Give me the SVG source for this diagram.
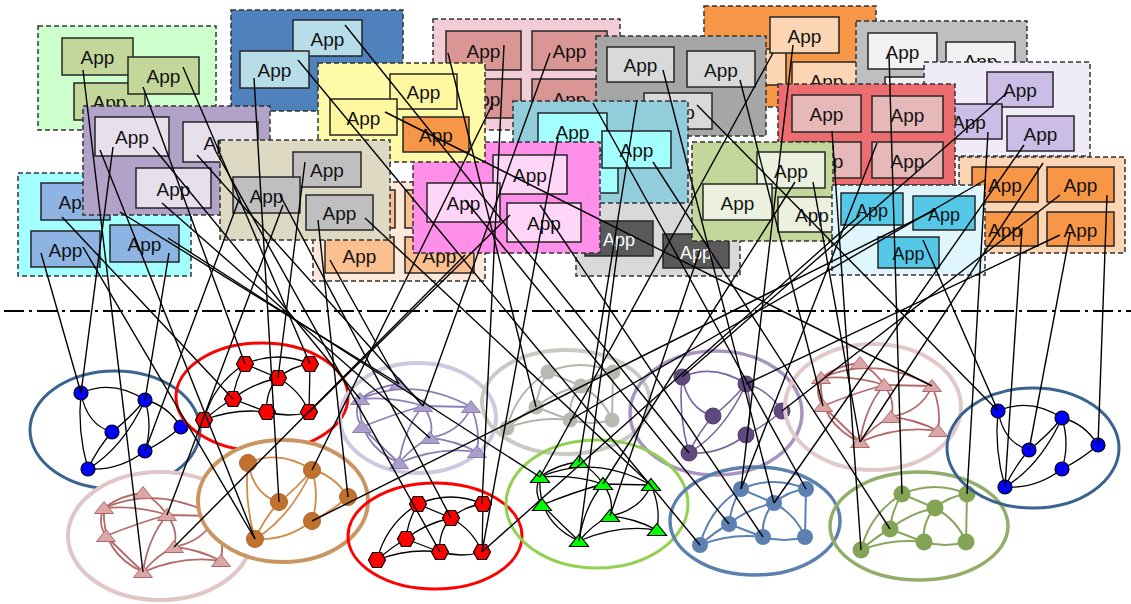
<svg xmlns="http://www.w3.org/2000/svg" xmlns:xlink="http://www.w3.org/1999/xlink" width="1131" height="604" viewBox="0 0 1131 604">
<style>
  .ct{stroke:#333;stroke-width:1.5;stroke-dasharray:5 3}
  .ap{stroke:#262626;stroke-width:1.5}
  .t{font-family:"Liberation Sans",Arial,sans-serif;font-size:19px;text-anchor:middle;fill:#111;transform:translateY(1.5px)}
  .tw{fill:#fff;font-size:18px}
  .ts{font-size:18px}
  .cn{stroke:#000;stroke-width:1.4;fill:none}
  .e{fill:none}
  .ink .e{stroke:#000;stroke-width:1.3}
  .ink .nd{stroke:#000;stroke-width:1.2}
</style>
<defs>
  <filter id="soft" x="-10%" y="-10%" width="120%" height="120%"><feGaussianBlur stdDeviation="0.7"/></filter>
  <!-- six-node layout -->
  <g id="edgesA">
    <path d="M0,0 Q32,-14 64,7"/><path d="M0,0 Q-4,38 7,76"/><path d="M0,0 Q6,32 31,39"/>
    <path d="M64,7 Q48,26 31,39"/><path d="M64,7 Q42,55 7,76"/><path d="M64,7 Q72,33 64,58"/>
    <path d="M64,7 Q86,12 100,34"/><path d="M31,39 Q16,56 7,76"/><path d="M64,58 Q38,78 7,76"/>
    <path d="M100,34 Q84,48 64,58"/>
  </g>
  <!-- seven-node layout -->
  <g id="edgesB">
    <path d="M0,0 Q33,-14 65,0"/><path d="M0,0 L33,14"/><path d="M33,14 Q47,2 65,0"/>
    <path d="M0,0 Q-10,16 -12,35"/><path d="M0,0 Q-32,20 -41,56"/><path d="M33,14 Q6,20 -12,35"/>
    <path d="M33,14 Q20,28 22,48"/><path d="M33,14 Q55,26 64,48"/><path d="M65,0 L64,48"/>
    <path d="M-12,35 L22,48"/><path d="M22,48 Q44,54 64,48"/><path d="M-41,56 Q-25,42 -12,35"/>
    <path d="M-41,56 Q-10,44 22,48"/>
  </g>
  <!-- eight-node layout -->
  <g id="edgesC">
    <path d="M-39,15 Q15,-8 72,23"/><path d="M0,0 Q-22,2 -39,15"/><path d="M0,0 Q15,8 24,22"/>
    <path d="M-39,15 Q-5,12 24,22"/><path d="M24,22 L72,23"/><path d="M-39,15 Q-46,30 -37,43"/>
    <path d="M-37,43 Q-5,30 24,22"/><path d="M24,22 Q36,38 31,54"/><path d="M72,23 Q62,48 31,54"/>
    <path d="M72,23 Q82,45 78,68"/><path d="M31,54 Q55,56 78,68"/><path d="M0,79 Q-42,60 -39,15"/>
    <path d="M0,79 Q5,45 24,22"/><path d="M0,79 Q14,62 31,54"/><path d="M0,79 Q40,62 78,68"/>
    <path d="M0,79 Q-20,60 -37,43"/>
  </g>
  <polygon id="hex" points="-8.5,0 -4.5,-7.5 4.5,-7.5 8.5,0 4.5,7.5 -4.5,7.5"/>
  <polygon id="tri" points="0,-6.5 9.5,5.5 -9.5,5.5"/>
</defs>

<rect width="1131" height="604" fill="#fff"/>

<!-- ===== application containers ===== -->
<g id="grp-green">
  <rect class="ct" x="38" y="26" width="178" height="104" fill="#ccffcc"/>
  <rect class="ap" x="62" y="38" width="71" height="37" fill="#c4d79b"/><text class="t" x="97.5" y="62.5">App</text>
  <rect class="ap" x="74" y="83" width="71" height="37" fill="#c4d79b"/><text class="t" x="109.5" y="107.5">App</text>
  <rect class="ap" x="128" y="57" width="71" height="37" fill="#c4d79b"/><text class="t" x="163.5" y="81.5">App</text>
</g>
<g id="grp-cyanlight">
  <rect class="ct" x="18" y="173" width="173" height="103" fill="#a3ffff"/>
  <rect class="ap" x="41" y="183" width="69" height="37" fill="#8db4e2"/><text class="t" x="75.5" y="207.5">App</text>
  <rect class="ap" x="31" y="231" width="69" height="36" fill="#8db4e2"/><text class="t" x="65.5" y="255">App</text>
  <rect class="ap" x="110" y="225" width="69" height="37" fill="#8db4e2"/><text class="t" x="144.5" y="249.5">App</text>
</g>
<g id="grp-blue">
  <rect class="ct" x="231" y="10" width="172" height="101" fill="#4f81bd"/>
  <rect class="ap" x="293" y="20" width="69" height="36" fill="#b7dee8"/><text class="t" x="327.5" y="44">App</text>
  <rect class="ap" x="240" y="51" width="69" height="37" fill="#b7dee8"/><text class="t" x="274.5" y="75.5">App</text>
</g>
<g id="grp-pink">
  <rect class="ct" x="433" y="19" width="187" height="111" fill="#f2cdd8"/>
  <rect class="ap" x="446" y="31" width="75" height="39" fill="#da9694"/><text class="t" x="483.5" y="56.5">App</text>
  <rect class="ap" x="532" y="31" width="75" height="39" fill="#da9694"/><text class="t" x="569.5" y="56.5">App</text>
  <rect class="ap" x="446" y="79" width="75" height="39" fill="#da9694"/><text class="t" x="483.5" y="104.5">App</text>
  <rect class="ap" x="532" y="79" width="75" height="39" fill="#da9694"/><text class="t" x="569.5" y="104.5">App</text>
</g>
<g id="grp-orange">
  <rect class="ct" x="704" y="6" width="172" height="101" fill="#f79646"/>
  <rect class="ap" x="716" y="49" width="70" height="36" fill="#fcd5b4"/>
  <rect class="ap" x="792" y="62" width="69" height="36" fill="#fcd5b4"/><text class="t" x="826.5" y="86">App</text>
  <rect class="ap" x="770" y="17" width="69" height="36" fill="#fcd5b4"/><text class="t" x="804.5" y="41">App</text>
</g>
<g id="grp-silver">
  <rect class="ct" x="856" y="21" width="171" height="92" fill="#bfbfbf"/>
  <rect class="ap" x="868" y="33" width="69" height="36" fill="#f2f2f2"/><text class="t" x="902.5" y="57">App</text>
  <rect class="ap" x="946" y="42" width="69" height="36" fill="#f2f2f2"/><text class="t" x="980.5" y="66">App</text>
  <rect class="ap" x="885" y="77" width="69" height="36" fill="#f2f2f2"/>
</g>
<g id="grp-lavender">
  <rect class="ct" x="924" y="62" width="166" height="94" fill="#efebf8"/>
  <rect class="ap" x="987" y="72" width="66" height="35" fill="#cbbde6"/><text class="t" x="1020" y="95.5">App</text>
  <rect class="ap" x="936" y="104" width="66" height="35" fill="#cbbde6"/><text class="t" x="969" y="127.5">App</text>
  <rect class="ap" x="1007" y="116" width="67" height="35" fill="#cbbde6"/><text class="t" x="1040.5" y="139.5">App</text>
</g>
<g id="grp-red">
  <rect class="ct" x="778" y="84" width="177" height="101" fill="#ec6c6f"/>
  <rect class="ap" x="792" y="95" width="69" height="37" fill="#e6b9b8"/><text class="t" x="826.5" y="119.5">App</text>
  <rect class="ap" x="872" y="96" width="71" height="36" fill="#e6b9b8"/><text class="t" x="907.5" y="120">App</text>
  <rect class="ap" x="872" y="142" width="71" height="36" fill="#e6b9b8"/><text class="t" x="907.5" y="166">App</text>
  <rect class="ap" x="792" y="142" width="69" height="36" fill="#e6b9b8"/><text class="t" x="826.5" y="166">App</text>
</g>
<g id="grp-graydark">
  <rect class="ct" x="596" y="36" width="170" height="100" fill="#a6a6a6"/>
  <rect class="ap" x="607" y="47" width="67" height="35" fill="#d9d9d9"/><text class="t" x="640.5" y="70.5">App</text>
  <rect class="ap" x="687" y="51" width="68" height="36" fill="#d9d9d9"/><text class="t" x="721" y="75">App</text>
  <rect class="ap" x="644" y="93" width="68" height="36" fill="#d9d9d9"/><text class="t" x="678" y="117">App</text>
</g>
<g id="grp-graylight">
  <rect class="ct" x="576" y="170" width="164" height="106" fill="#d9d9d9"/>
  <rect class="ap" x="585" y="221" width="68" height="35" fill="#595959"/><text class="t tw" x="619" y="244.5">App</text>
  <rect class="ap" x="663" y="234" width="66" height="34" fill="#595959"/><text class="t tw" x="696" y="257">App</text>
</g>
<g id="grp-cyan">
  <rect class="ct" x="513" y="101" width="175" height="102" fill="#92cddc"/>
  <rect class="ap" x="538" y="113" width="69" height="37" fill="#a3ffff"/><text class="t" x="572.5" y="137.5">App</text>
  <rect class="ap" x="550" y="155" width="68" height="38" fill="#a3ffff"/>
  <rect class="ap" x="602" y="131" width="69" height="37" fill="#a3ffff"/><text class="t" x="636.5" y="155.5">App</text>
</g>
<g id="grp-olive">
  <rect class="ct" x="692" y="142" width="141" height="99" fill="#c4d79b"/>
  <rect class="ap" x="757" y="152" width="68" height="36" fill="#ebf1de"/><text class="t" x="791" y="176">App</text>
  <rect class="ap" x="703" y="184" width="69" height="36" fill="#ebf1de"/><text class="t" x="737.5" y="208">App</text>
  <rect class="ap" x="778" y="197" width="68" height="35" fill="#ebf1de"/><text class="t" x="812" y="220.5">App</text>
</g>
<g id="grp-apricot">
  <rect class="ct" x="959" y="157" width="166" height="96" fill="#fcd5b4"/>
  <rect class="ap" x="972" y="167" width="66" height="35" fill="#f79646"/><text class="t" x="1005" y="190.5">App</text>
  <rect class="ap" x="1047" y="167" width="67" height="35" fill="#f79646"/><text class="t" x="1080.5" y="190.5">App</text>
  <rect class="ap" x="972" y="212" width="66" height="34" fill="#f79646"/><text class="t" x="1005" y="235">App</text>
  <rect class="ap" x="1047" y="212" width="67" height="34" fill="#f79646"/><text class="t" x="1080.5" y="235">App</text>
</g>
<g id="grp-sky">
  <rect class="ct" x="832" y="185" width="153" height="90" fill="#e0f6fd"/>
  <rect class="ap" x="841" y="193" width="62" height="32" fill="#55c8e8"/><text class="t ts" x="872" y="215">App</text>
  <rect class="ap" x="913" y="196" width="62" height="34" fill="#55c8e8"/><text class="t ts" x="944" y="219">App</text>
  <rect class="ap" x="878" y="237" width="61" height="31" fill="#55c8e8"/><text class="t ts" x="908.5" y="258.5">App</text>
</g>
<g id="grp-purple">
  <rect class="ct" x="83" y="106" width="187" height="109" fill="#b3a2c7"/>
  <rect class="ap" x="95" y="117" width="74" height="39" fill="#e6e0ec"/><text class="t" x="132" y="142.5">App</text>
  <rect class="ap" x="183" y="122" width="75" height="40" fill="#e6e0ec"/><text class="t" x="220.5" y="148">App</text>
  <rect class="ap" x="136" y="168" width="75" height="40" fill="#e6e0ec"/><text class="t" x="173.5" y="194">App</text>
</g>
<g id="grp-peach">
  <rect class="ct" x="313" y="182" width="172" height="99" fill="#fde9d9"/>
  <rect class="ap" x="326" y="190" width="69" height="38" fill="#fac090"/>
  <rect class="ap" x="405" y="190" width="69" height="38" fill="#fac090"/>
  <rect class="ap" x="325" y="237" width="69" height="36" fill="#fac090"/><text class="t" x="359.5" y="261">App</text>
  <rect class="ap" x="405" y="237" width="69" height="36" fill="#fac090"/><text class="t" x="439.5" y="261">App</text>
</g>
<g id="grp-magenta">
  <rect class="ct" x="413" y="142" width="187" height="111" fill="#ff8fe8"/>
  <rect class="ap" x="493" y="155" width="74" height="39" fill="#ffd6f8"/><text class="t" x="530" y="180.5">App</text>
  <rect class="ap" x="427" y="183" width="73" height="39" fill="#ffd6f8"/><text class="t" x="463.5" y="208.5">App</text>
  <rect class="ap" x="507" y="203" width="74" height="39" fill="#ffd6f8"/><text class="t" x="544" y="228.5">App</text>
</g>
<g id="grp-yellow">
  <rect class="ct" x="318" y="63" width="167" height="99" fill="#fffaa8"/>
  <rect class="ap" x="390" y="74" width="67" height="35" fill="#fff7a0"/><text class="t" x="423.5" y="97.5">App</text>
  <rect class="ap" x="330" y="99" width="67" height="36" fill="#fff7a0"/><text class="t" x="363.5" y="123">App</text>
  <rect class="ap" x="403" y="117" width="66" height="35" fill="#f79646"/><text class="t" x="436" y="140.5">App</text>
</g>
<g id="grp-tan">
  <rect class="ct" x="220" y="140" width="170" height="100" fill="#ddd9c3"/>
  <rect class="ap" x="293" y="152" width="68" height="35" fill="#bfbfbf"/><text class="t" x="327" y="175.5">App</text>
  <rect class="ap" x="233" y="177" width="67" height="36" fill="#bfbfbf"/><text class="t" x="266.5" y="201">App</text>
  <rect class="ap" x="306" y="195" width="67" height="35" fill="#bfbfbf"/><text class="t" x="339.5" y="218.5">App</text>
</g>

<!-- layer boundary -->
<line x1="4" y1="311" x2="1131" y2="311" stroke="#000" stroke-width="2" stroke-dasharray="20 5 3 5"/>

<!-- ===== network graphs ===== -->
<g id="net-blue-left" class="ink">
  <ellipse cx="115" cy="430" rx="85" ry="59" fill="none" stroke="#3a6390" stroke-width="3"/>
  <g transform="translate(81,393)" fill="#0000ff">
    <use href="#edgesA" class="e"/>
    <circle class="nd" cx="0" cy="0" r="7"/><circle class="nd" cx="64" cy="7" r="7"/><circle class="nd" cx="31" cy="39" r="7"/>
    <circle class="nd" cx="100" cy="34" r="7"/><circle class="nd" cx="64" cy="58" r="7"/><circle class="nd" cx="7" cy="76" r="7"/>
  </g>
</g>
<g id="net-red-top" class="ink">
  <ellipse cx="262" cy="397" rx="86" ry="54" fill="none" stroke="#ff0000" stroke-width="3"/>
  <g transform="translate(245,364)" fill="#ff0000">
    <use href="#edgesB" class="e"/>
    <use href="#hex" class="nd"/><use href="#hex" class="nd" x="33" y="14"/><use href="#hex" class="nd" x="65" y="0"/>
    <use href="#hex" class="nd" x="-12" y="35"/><use href="#hex" class="nd" x="22" y="48"/><use href="#hex" class="nd" x="64" y="48"/>
    <use href="#hex" class="nd" x="-41" y="56"/>
  </g>
</g>
<g id="net-rose-left" filter="url(#soft)">
  <ellipse cx="160" cy="536" rx="92" ry="64" fill="#fff" stroke="#e0c6c6" stroke-width="4"/>
  <g transform="translate(143,493)">
    <use href="#edgesC" class="e" stroke="#b56a6a" stroke-width="1.8"/>
    <g fill="#dba6a6" stroke="#b46868" stroke-width="1">
      <use href="#tri"/><use href="#tri" x="-39" y="15"/><use href="#tri" x="24" y="22"/><use href="#tri" x="72" y="23"/>
      <use href="#tri" x="-37" y="43"/><use href="#tri" x="31" y="54"/><use href="#tri" x="78" y="68"/><use href="#tri" x="0" y="79"/>
    </g>
  </g>
</g>
<g id="net-brown" filter="url(#soft)">
  <ellipse cx="283" cy="501" rx="85" ry="61" fill="#fff" stroke="#c99560" stroke-width="4"/>
  <g transform="translate(248,463)">
    <use href="#edgesA" class="e" stroke="#d08b48" stroke-width="1.8"/>
    <g fill="#c0712d" stroke="#b2652a" stroke-width="1">
      <circle cx="0" cy="0" r="8.5"/><circle cx="64" cy="7" r="8.5"/><circle cx="31" cy="39" r="8.5"/>
      <circle cx="100" cy="34" r="8.5"/><circle cx="64" cy="58" r="8.5"/><circle cx="7" cy="76" r="8.5"/>
    </g>
  </g>
</g>
<g id="net-red-bottom" class="ink">
  <ellipse cx="435" cy="536" rx="87" ry="53" fill="none" stroke="#ff0000" stroke-width="3"/>
  <g transform="translate(418,504)" fill="#ff0000">
    <use href="#edgesB" class="e"/>
    <use href="#hex" class="nd"/><use href="#hex" class="nd" x="33" y="14"/><use href="#hex" class="nd" x="65" y="0"/>
    <use href="#hex" class="nd" x="-12" y="35"/><use href="#hex" class="nd" x="22" y="48"/><use href="#hex" class="nd" x="64" y="48"/>
    <use href="#hex" class="nd" x="-41" y="56"/>
  </g>
</g>
<g id="net-lilac" filter="url(#soft)">
  <ellipse cx="418" cy="418" rx="78" ry="55" fill="none" stroke="#cfc8e0" stroke-width="4"/>
  <g transform="translate(399,384)">
    <use href="#edgesC" class="e" stroke="#8d7fb3" stroke-width="1.8"/>
    <g fill="#aa9ecb" stroke="#8c7eb4" stroke-width="1">
      <use href="#tri"/><use href="#tri" x="-39" y="15"/><use href="#tri" x="24" y="22"/><use href="#tri" x="72" y="23"/>
      <use href="#tri" x="-37" y="43"/><use href="#tri" x="31" y="54"/><use href="#tri" x="78" y="68"/><use href="#tri" x="0" y="79"/>
    </g>
  </g>
</g>
<g id="net-gray" filter="url(#soft)">
  <ellipse cx="566" cy="402" rx="84" ry="52" fill="none" stroke="#cacac4" stroke-width="4"/>
  <g transform="translate(548,372)">
    <use href="#edgesB" class="e" stroke="#b5b5ad" stroke-width="2"/>
    <g fill="#b9b9b2">
      <circle cx="0" cy="0" r="7.5"/><circle cx="33" cy="14" r="7.5"/><circle cx="65" cy="0" r="7.5"/>
      <circle cx="-12" cy="35" r="7.5"/><circle cx="22" cy="48" r="7.5"/><circle cx="64" cy="48" r="7.5"/><circle cx="-41" cy="56" r="7.5"/>
    </g>
  </g>
</g>
<g id="net-violet" filter="url(#soft)">
  <ellipse cx="716" cy="413" rx="86" ry="62" fill="none" stroke="#a794c0" stroke-width="3.5"/>
  <g transform="translate(682,377)">
    <use href="#edgesA" class="e" stroke="#7a66a0" stroke-width="1.6"/>
    <g fill="#5f497f" stroke="#513c70" stroke-width="1">
      <circle cx="0" cy="0" r="8"/><circle cx="64" cy="7" r="8"/><circle cx="31" cy="39" r="8"/>
      <circle cx="100" cy="34" r="8"/><circle cx="64" cy="58" r="8"/><circle cx="7" cy="76" r="8"/>
    </g>
  </g>
</g>
<g id="net-green" class="ink">
  <ellipse cx="597" cy="504" rx="91" ry="64" fill="none" stroke="#92d050" stroke-width="3"/>
  <g transform="translate(579,462)" fill="#00ff00">
    <use href="#edgesC" class="e" stroke-width="1.2"/>
    <use href="#tri" class="nd"/><use href="#tri" class="nd" x="-39" y="15"/><use href="#tri" class="nd" x="24" y="22"/><use href="#tri" class="nd" x="72" y="23"/>
    <use href="#tri" class="nd" x="-37" y="43"/><use href="#tri" class="nd" x="31" y="54"/><use href="#tri" class="nd" x="78" y="68"/><use href="#tri" class="nd" x="0" y="79"/>
  </g>
</g>
<g id="net-rose-right" filter="url(#soft)">
  <ellipse cx="873" cy="407" rx="88" ry="63" fill="none" stroke="#e2c9c9" stroke-width="4"/>
  <g transform="translate(860,363)">
    <use href="#edgesC" class="e" stroke="#b56a6a" stroke-width="1.8"/>
    <g fill="#dba6a6" stroke="#b46868" stroke-width="1">
      <use href="#tri"/><use href="#tri" x="-39" y="15"/><use href="#tri" x="24" y="22"/><use href="#tri" x="72" y="23"/>
      <use href="#tri" x="-37" y="43"/><use href="#tri" x="31" y="54"/><use href="#tri" x="78" y="68"/><use href="#tri" x="0" y="79"/>
    </g>
  </g>
</g>
<g id="net-steel" filter="url(#soft)">
  <ellipse cx="755" cy="521" rx="85" ry="54" fill="none" stroke="#5b80ae" stroke-width="3.5"/>
  <g transform="translate(741,489)">
    <use href="#edgesB" class="e" stroke="#5b80b1" stroke-width="2"/>
    <g fill="#5b80b1">
      <circle cx="0" cy="0" r="8"/><circle cx="33" cy="14" r="8"/><circle cx="65" cy="0" r="8"/>
      <circle cx="-12" cy="35" r="8"/><circle cx="22" cy="48" r="8"/><circle cx="64" cy="48" r="8"/><circle cx="-41" cy="56" r="8"/>
    </g>
  </g>
</g>
<g id="net-olive" filter="url(#soft)">
  <ellipse cx="919" cy="526" rx="89" ry="54" fill="none" stroke="#93ad6a" stroke-width="3.5"/>
  <g transform="translate(902,494)">
    <use href="#edgesB" class="e" stroke="#8aa65c" stroke-width="2"/>
    <g fill="#84a454">
      <circle cx="0" cy="0" r="8.5"/><circle cx="33" cy="14" r="8.5"/><circle cx="65" cy="0" r="8.5"/>
      <circle cx="-12" cy="35" r="8.5"/><circle cx="22" cy="48" r="8.5"/><circle cx="64" cy="48" r="8.5"/><circle cx="-41" cy="56" r="8.5"/>
    </g>
  </g>
</g>
<g id="net-blue-right" class="ink">
  <ellipse cx="1033" cy="448" rx="86" ry="60" fill="none" stroke="#3a6390" stroke-width="3"/>
  <g transform="translate(998,411)" fill="#0000ff">
    <use href="#edgesA" class="e"/>
    <circle class="nd" cx="0" cy="0" r="7"/><circle class="nd" cx="64" cy="7" r="7"/><circle class="nd" cx="31" cy="39" r="7"/>
    <circle class="nd" cx="100" cy="34" r="7"/><circle class="nd" cx="64" cy="58" r="7"/><circle class="nd" cx="7" cy="76" r="7"/>
  </g>
</g>

<!-- ===== placement links: app -> host ===== -->
<g id="links" class="cn">
  <path d="M83,70 L143,572"/><path d="M143,87 L245,364"/><path d="M183,67 L310,364"/>
  <path d="M113,147 L81,393"/><path d="M41,253 L81,393"/><path d="M169,253 L145,400"/>
  <path d="M62,217 L233,399"/><path d="M83,247 L255,539"/><path d="M254,78 L279,502"/>
  <path d="M153,147 L360,399"/><path d="M197,155 L423,406"/><path d="M215,150 L440,552"/>
  <path d="M162,203 L430,438"/><path d="M305,162 L278,378"/><path d="M240,197 L145,451"/>
  <path d="M318,220 L348,497"/><path d="M330,260 L399,384"/><path d="M365,218 L651,485"/>
  <path d="M504,45 L482,504"/><path d="M448,53 L536,407"/><path d="M550,53 L423,406"/>
  <path d="M493,103 L312,470"/><path d="M345,25 L689,453"/><path d="M298,60 L700,545"/>
  <path d="M385,112 L932,386"/><path d="M558,137 L482,552"/><path d="M653,162 L890,529"/>
  <path d="M637,100 L579,462"/><path d="M593,103 L806,489"/><path d="M697,105 L998,411"/>
  <path d="M773,53 L540,477"/><path d="M793,45 L741,489"/><path d="M663,70 L774,503"/>
  <path d="M740,80 L823,406"/><path d="M832,131 L861,550"/><path d="M889,55 L902,494"/>
  <path d="M1007,93 L682,377"/><path d="M988,132 L967,494"/><path d="M1024,145 L774,503"/>
  <path d="M877,143 L741,489"/><path d="M985,180 L570,420"/><path d="M1043,163 L860,442"/>
  <path d="M1060,195 L782,411"/><path d="M1022,228 L1005,487"/><path d="M1070,233 L1029,450"/>
  <path d="M1107,195 L1098,445"/><path d="M923,240 L998,411"/><path d="M1060,235 L746,384"/>
  <path d="M935,210 L312,521"/><path d="M168,238 L540,477"/><path d="M280,195 L451,518"/>
  <path d="M120,212 L399,384"/><path d="M510,215 L309,412"/><path d="M860,215 L482,552"/>
  <path d="M813,182 L860,442"/><path d="M795,182 L603,484"/><path d="M465,255 L174,547"/>
  <path d="M283,205 L167,515"/><path d="M100,150 L255,539"/><path d="M619,239 L579,541"/>
  <path d="M700,250 L610,516"/><path d="M540,205 L763,537"/><path d="M465,200 L729,524"/>
</g>
</svg>
